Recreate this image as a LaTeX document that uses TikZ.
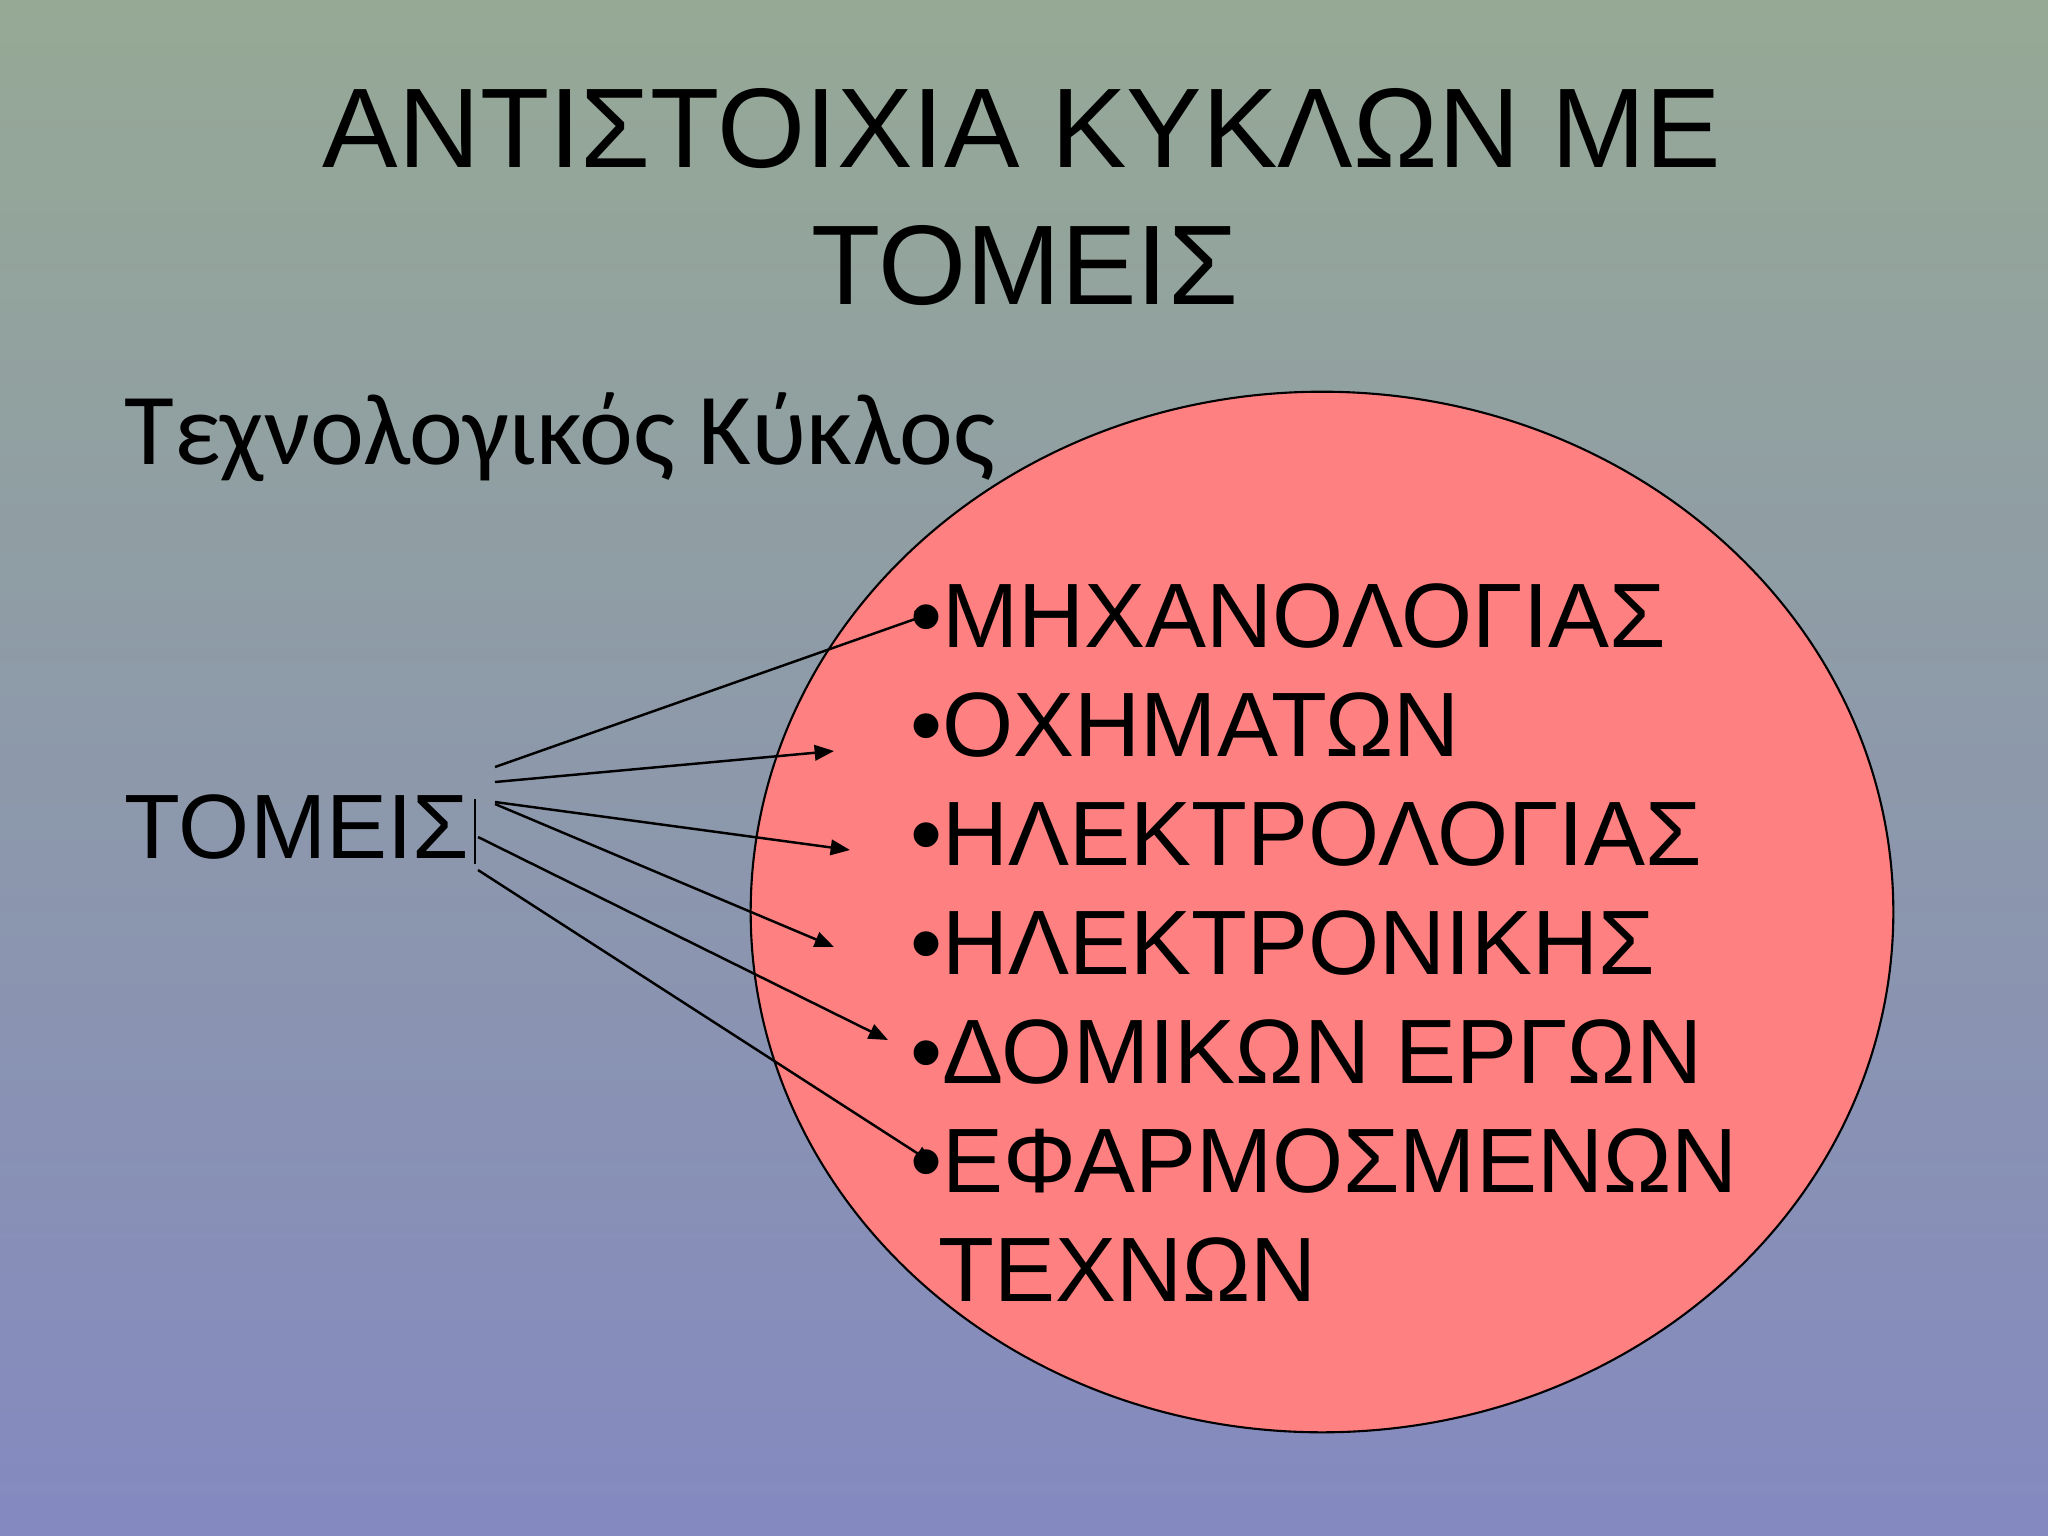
\documentclass[tikz,border=0pt]{standalone}
\usepackage{fontspec}
\setmainfont{Liberation Sans}
\newfontfamily\subfont{Carlito}
\usetikzlibrary{arrows.meta,shapes.geometric}
\definecolor{bgtop}{RGB}{150,169,149}
\definecolor{bgbot}{RGB}{132,137,192}
\definecolor{pinkfill}{RGB}{255,128,128}
\tikzset{
  item/.style={anchor=base west, inner sep=0pt, font=\fontsize{26}{31}\selectfont},
  titletext/.style={anchor=base, inner sep=0pt, font=\fontsize{32.2}{39}\selectfont},
  conn/.style={line width=0.7pt, -{Triangle[length=5.5pt,width=4.4pt]}},
}
\begin{document}
\begin{tikzpicture}[x=0.01cm,y=-0.01cm]
\useasboundingbox (0,0) rectangle (2048,1536);
\shade[top color=bgtop,bottom color=bgbot] (0,0) rectangle (2048,1536);
\node[titletext] (t1) at (1022,167) {ΑΝΤΙΣΤΟΙΧΙΑ ΚΥΚΛΩΝ ΜΕ};
\node[titletext] (t2) at (1025,304) {ΤΟΜΕΙΣ};
\node[anchor=base west, inner sep=0pt, font=\subfont\fontsize{29}{35}\selectfont] (sub) at (124,464) {Τεχνολογικός Κύκλος};
\node[ellipse, draw=black, line width=0.6pt, fill=pinkfill, minimum width=11.42cm, minimum height=10.4cm, inner sep=0pt] (circ) at (1322,912) {};
\node[item] (tomeis) at (124,858) {ΤΟΜΕΙΣ};
\coordinate (b1) at (475,799);
\coordinate (b2) at (475,864);
\draw[line width=0.6pt] (b1) -- (b2);
\coordinate (s1) at (495,767);
\coordinate (s2) at (495,782);
\coordinate (s3) at (495,802);
\coordinate (s4) at (495,804);
\coordinate (s5) at (478,837);
\coordinate (s6) at (478,870);
\coordinate (e1) at (935,612);
\coordinate (e2) at (834,751);
\coordinate (e3) at (850,850);
\coordinate (e4) at (834,947);
\coordinate (e5) at (888,1040);
\coordinate (e6) at (934,1164);
\foreach \i in {1,...,6} \draw[conn] (s\i) -- (e\i);
\node[item] (m1) at (910,647) {•ΜΗΧΑΝΟΛΟΓΙΑΣ};
\node[item] (m2) at (910,756) {•ΟΧΗΜΑΤΩΝ};
\node[item] (m3) at (910,865) {•ΗΛΕΚΤΡΟΛΟΓΙΑΣ};
\node[item] (m4) at (910,974) {•ΗΛΕΚΤΡΟΝΙΚΗΣ};
\node[item] (m5) at (910,1083) {•ΔΟΜΙΚΩΝ ΕΡΓΩΝ};
\node[item] (m6) at (910,1192) {•ΕΦΑΡΜΟΣΜΕΝΩΝ};
\node[item] (m7) at (938,1301) {ΤΕΧΝΩΝ};
\end{tikzpicture}
\end{document}
